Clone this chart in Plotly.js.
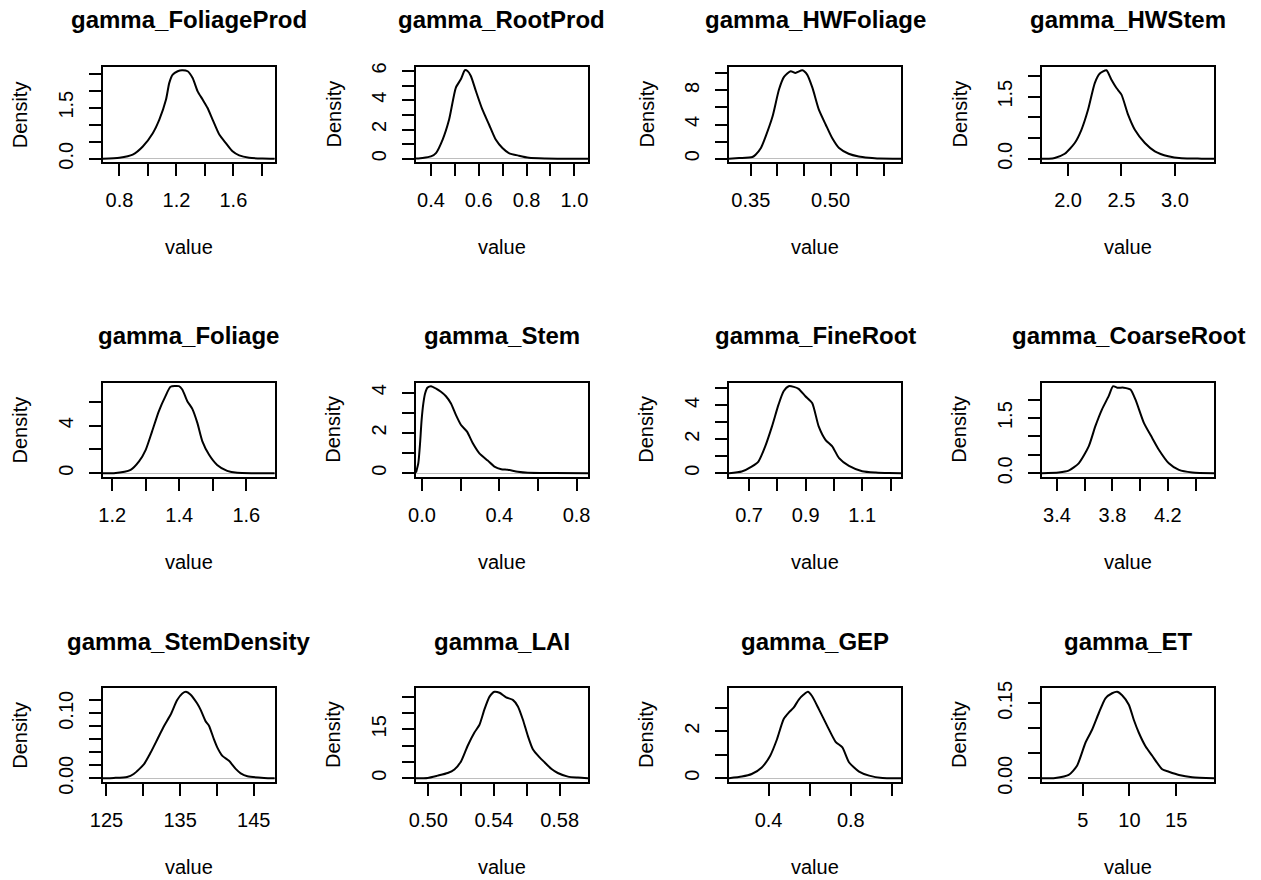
<!DOCTYPE html>
<html><head><meta charset="utf-8">
<script src="https://cdn.plot.ly/plotly-3.0.1.min.js"></script>
<style>html,body{margin:0;padding:0;background:#fff}#chart{width:1261px;height:880px}</style>
</head><body><div id="chart"></div>
<script>
// ---------- data ----------
const panelTitles = ["gamma_FoliageProd","gamma_RootProd","gamma_HWFoliage","gamma_HWStem",
  "gamma_Foliage","gamma_Stem","gamma_FineRoot","gamma_CoarseRoot",
  "gamma_StemDensity","gamma_LAI","gamma_GEP","gamma_ET"];
const xAxisLabel = "value";
const yAxisLabel = "Density";

const foliageProdX = [0.683,0.80,0.893,0.964,1.034,1.080,1.127,1.150,1.174,1.209,1.239,1.279,1.314,1.349,1.384,1.419,1.454,1.501,1.547,1.594,1.641,1.711,1.804,1.891];
const foliageProdY = [0.0,0.03,0.12,0.36,0.75,1.15,1.74,2.23,2.47,2.57,2.60,2.57,2.37,1.98,1.74,1.49,1.15,0.71,0.46,0.22,0.10,0.03,0.005,0.0];
const rootProdX = [0.3375,0.365,0.40,0.421,0.449,0.476,0.504,0.525,0.542,0.553,0.567,0.588,0.615,0.643,0.671,0.699,0.726,0.768,0.81,0.879,0.9625,1.057];
const rootProdY = [0.01,0.05,0.16,0.39,1.31,2.68,4.85,5.43,6.05,6.0,5.66,4.63,3.37,2.34,1.31,0.73,0.39,0.21,0.07,0.02,0.005,0.0];
const hwFoliageX = [0.309,0.328,0.353,0.359,0.369,0.378,0.391,0.403,0.4125,0.425,0.434,0.447,0.456,0.466,0.478,0.491,0.503,0.516,0.534,0.553,0.572,0.591,0.6325];
const hwFoliageY = [0.0,0.08,0.2,0.47,1.25,2.62,4.96,8.09,9.57,10.23,10.04,10.35,9.84,8.28,5.74,3.98,2.42,1.25,0.59,0.27,0.12,0.02,0.0];
const hwStemX = [1.756,1.82,1.875,1.969,2.0625,2.125,2.1875,2.25,2.297,2.359,2.406,2.453,2.5,2.5625,2.625,2.719,2.8125,2.9375,3.0625,3.25,3.366];
const hwStemY = [0.0,0.003,0.02,0.12,0.38,0.70,1.19,1.83,2.06,2.14,1.91,1.71,1.55,1.06,0.70,0.38,0.18,0.06,0.01,0.003,0.0];
const foliageX = [1.172,1.205,1.255,1.28,1.30,1.319,1.339,1.359,1.374,1.399,1.409,1.424,1.439,1.454,1.469,1.489,1.513,1.543,1.573,1.623,1.685];
const foliageY = [0.0,0.0,0.28,0.99,1.97,3.52,5.21,6.48,7.27,7.32,7.04,6.06,5.41,4.23,2.68,1.55,0.70,0.20,0.03,0.0,0.0];
const stemX = [-0.031,-0.019,-0.010,-0.002,0.007,0.016,0.029,0.047,0.073,0.098,0.124,0.150,0.176,0.202,0.233,0.263,0.297,0.340,0.375,0.410,0.444,0.496,0.548,0.686,0.859];
const stemY = [0.03,0.5,1.49,2.64,3.47,3.97,4.26,4.33,4.21,4.05,3.83,3.47,2.89,2.40,2.07,1.49,0.99,0.63,0.33,0.20,0.17,0.07,0.02,0.01,0.0];
const fineRootX = [0.629,0.674,0.709,0.733,0.757,0.781,0.804,0.822,0.84,0.858,0.875,0.899,0.923,0.946,0.970,0.994,1.018,1.053,1.1,1.148,1.195,1.237];
const fineRootY = [0.0,0.1,0.39,0.69,1.58,2.76,4.04,4.83,5.13,5.09,4.97,4.54,4.14,2.76,1.97,1.58,0.89,0.43,0.12,0.04,0.01,0.0];
const coarseRootX = [3.292,3.412,3.484,3.557,3.629,3.677,3.725,3.773,3.805,3.834,3.882,3.930,3.966,4.027,4.087,4.135,4.207,4.280,4.376,4.533];
const coarseRootY = [0.0,0.02,0.07,0.27,0.73,1.28,1.74,2.10,2.37,2.33,2.33,2.28,2.01,1.37,0.96,0.64,0.27,0.09,0.02,0.0];
const stemDensityX = [124.5,126.0,127.8,128.7,130.1,131.0,131.9,132.8,133.7,134.6,135.3,135.8,136.4,137.3,137.79,138.47,138.92,139.6,140.06,140.74,141.64,142.55,143.23,144.14,146.4,147.86];
const stemDensityY = [0,0.0005,0.002,0.0066,0.0218,0.0395,0.0597,0.080,0.0977,0.1205,0.1306,0.1332,0.1291,0.1154,0.1053,0.0876,0.0810,0.0597,0.0471,0.0344,0.0268,0.0144,0.0076,0.0030,0.0005,0];
const laiX = [0.4925,0.4996,0.5057,0.5118,0.5159,0.52,0.524,0.5281,0.5311,0.5342,0.5373,0.5403,0.5434,0.5474,0.5515,0.5546,0.5576,0.5607,0.5637,0.5678,0.5708,0.5749,0.5789,0.5851,0.5912,0.5973];
const laiY = [0,0.1,0.8,1.6,2.7,5.2,9.95,14.0,16.3,21.1,25.0,26.5,26.2,24.8,24.0,22.0,18.0,12.9,8.9,6.4,4.9,2.9,1.6,0.5,0.2,0];
const gepX = [0.2076,0.27,0.318,0.367,0.408,0.441,0.473,0.498,0.522,0.547,0.571,0.591,0.612,0.645,0.685,0.726,0.759,0.791,0.84,0.889,0.954,1.044];
const gepY = [0,0.07,0.18,0.46,0.96,1.66,2.51,2.79,3.0,3.35,3.56,3.68,3.49,2.93,2.23,1.55,1.31,0.68,0.28,0.11,0.01,0];
const etX = [0.643,2.07,3.5,4.39,5.29,6.0,6.71,7.43,8.14,8.68,9.21,9.93,10.46,11.0,11.71,12.43,13.5,14.21,15.29,16.71,19.04];
const etY = [0,0.0007,0.0066,0.025,0.071,0.097,0.130,0.160,0.170,0.173,0.166,0.147,0.117,0.091,0.064,0.045,0.018,0.013,0.0066,0.002,0];

// tick values and labels (R drops overlapping labels -> "")
const foliageProdXTicks = [0.8,1.0,1.2,1.4,1.6,1.8], foliageProdXLabels = ["0.8","","1.2","","1.6",""];
const foliageProdYTicks = [0,0.5,1,1.5,2,2.5], foliageProdYLabels = ["0.0","","","1.5","",""];
const rootProdXTicks = [0.4,0.5,0.6,0.7,0.8,0.9,1.0], rootProdXLabels = ["0.4","","0.6","","0.8","","1.0"];
const rootProdYTicks = [0,1,2,3,4,5,6], rootProdYLabels = ["0","","2","","4","","6"];
const hwFoliageXTicks = [0.35,0.40,0.45,0.50,0.55,0.60], hwFoliageXLabels = ["0.35","","","0.50","",""];
const hwFoliageYTicks = [0,2,4,6,8,10], hwFoliageYLabels = ["0","","4","","8",""];
const hwStemXTicks = [2.0,2.5,3.0], hwStemXLabels = ["2.0","2.5","3.0"];
const hwStemYTicks = [0,0.5,1,1.5,2], hwStemYLabels = ["0.0","","","1.5",""];
const foliageXTicks = [1.2,1.3,1.4,1.5,1.6], foliageXLabels = ["1.2","","1.4","","1.6"];
const foliageYTicks = [0,2,4,6], foliageYLabels = ["0","","4",""];
const stemXTicks = [0,0.2,0.4,0.6,0.8], stemXLabels = ["0.0","","0.4","","0.8"];
const stemYTicks = [0,1,2,3,4], stemYLabels = ["0","","2","","4"];
const fineRootXTicks = [0.7,0.8,0.9,1.0,1.1,1.2], fineRootXLabels = ["0.7","","0.9","","1.1",""];
const fineRootYTicks = [0,1,2,3,4,5], fineRootYLabels = ["0","","2","","4",""];
const coarseRootXTicks = [3.4,3.6,3.8,4.0,4.2,4.4], coarseRootXLabels = ["3.4","","3.8","","4.2",""];
const coarseRootYTicks = [0,0.5,1,1.5,2], coarseRootYLabels = ["0.0","","","1.5",""];
const stemDensityXTicks = [125,130,135,140,145], stemDensityXLabels = ["125","","135","","145"];
const stemDensityYTicks = [0,0.02,0.04,0.06,0.08,0.10,0.12], stemDensityYLabels = ["0.00","","","","","0.10",""];
const laiXTicks = [0.50,0.52,0.54,0.56,0.58], laiXLabels = ["0.50","","0.54","","0.58"];
const laiYTicks = [0,5,10,15,20,25], laiYLabels = ["0","","","15","",""];
const gepXTicks = [0.4,0.6,0.8,1.0], gepXLabels = ["0.4","","0.8",""];
const gepYTicks = [0,1,2,3], gepYLabels = ["0","","2",""];
const etXTicks = [5,10,15], etXLabels = ["5","10","15"];
const etYTicks = [0,0.05,0.10,0.15], etYLabels = ["0.00","","","0.15"];

const panels = [
  [foliageProdX,foliageProdY,foliageProdXTicks,foliageProdXLabels,foliageProdYTicks,foliageProdYLabels],
  [rootProdX,rootProdY,rootProdXTicks,rootProdXLabels,rootProdYTicks,rootProdYLabels],
  [hwFoliageX,hwFoliageY,hwFoliageXTicks,hwFoliageXLabels,hwFoliageYTicks,hwFoliageYLabels],
  [hwStemX,hwStemY,hwStemXTicks,hwStemXLabels,hwStemYTicks,hwStemYLabels],
  [foliageX,foliageY,foliageXTicks,foliageXLabels,foliageYTicks,foliageYLabels],
  [stemX,stemY,stemXTicks,stemXLabels,stemYTicks,stemYLabels],
  [fineRootX,fineRootY,fineRootXTicks,fineRootXLabels,fineRootYTicks,fineRootYLabels],
  [coarseRootX,coarseRootY,coarseRootXTicks,coarseRootXLabels,coarseRootYTicks,coarseRootYLabels],
  [stemDensityX,stemDensityY,stemDensityXTicks,stemDensityXLabels,stemDensityYTicks,stemDensityYLabels],
  [laiX,laiY,laiXTicks,laiXLabels,laiYTicks,laiYLabels],
  [gepX,gepY,gepXTicks,gepXLabels,gepYTicks,gepYLabels],
  [etX,etY,etXTicks,etXLabels,etYTicks,etYLabels]
];

// ---------- layout geometry (pixels) ----------
const W = 1261, H = 880;
const colLeft = [102.8, 416, 729, 1042], boxW = 172;
const rowTop = [66.7, 382.7, 688.3], rowBottom = [162.3, 476.7, 781.7];
const FONT = "Liberation Sans, Arial, Helvetica, sans-serif";

const data = [], annotations = [];
const layout = {
  width: W, height: H, margin: {l:0,r:0,t:0,b:0},
  paper_bgcolor: "#fff", plot_bgcolor: "#fff", showlegend: false,
  font: {family: FONT, color: "#000", size: 20}
};

panels.forEach((p, i) => {
  const [xs, ys, xt, xl, yt, yl] = p;
  const r = Math.floor(i / 4), c = i % 4, n = i + 1;
  const xa = n === 1 ? "xaxis" : "xaxis" + n, ya = n === 1 ? "yaxis" : "yaxis" + n;
  const xr = "x" + (n === 1 ? "" : n), yr = "y" + (n === 1 ? "" : n);
  const L = colLeft[c], R = L + boxW, T = rowTop[r], B = rowBottom[r];
  const ymax = Math.max(...ys);
  data.push({x: xs, y: ys, xaxis: xr, yaxis: yr, type: "scatter", mode: "lines",
    line: {color: "#000", width: 2, shape: "spline", smoothing: 0.6}, hoverinfo: "skip"});
  layout[xa] = {domain: [L / W, R / W], anchor: yr, range: [Math.min(...xs), Math.max(...xs)],
    showline: true, mirror: true, linecolor: "#000", linewidth: 2,
    ticks: "outside", ticklen: 12, tickwidth: 2, tickcolor: "#000", ticklabelstandoff: 7,
    tickmode: "array", tickvals: xt, ticktext: xl, tickfont: {size: 20, color: "#000", family: FONT},
    showgrid: false, zeroline: false, fixedrange: true};
  layout[ya] = {domain: [1 - B / H, 1 - T / H], anchor: xr, range: [-0.04 * ymax, 1.04 * ymax],
    showline: true, mirror: true, linecolor: "#000", linewidth: 2,
    ticks: "outside", ticklen: 12, tickwidth: 2, tickcolor: "#000", ticklabelstandoff: 8,
    tickmode: "array", tickvals: yt, ticktext: yl, tickangle: -90,
    tickfont: {size: 20, color: "#000", family: FONT},
    showgrid: false, zeroline: true, zerolinecolor: "#bebebe", zerolinewidth: 1, fixedrange: true};
  annotations.push({text: "<b>" + panelTitles[i] + "</b>", xref: "paper", yref: "paper",
    x: (L + boxW / 2) / W, y: 1 - (T - 47) / H, xanchor: "center", yanchor: "middle",
    showarrow: false, font: {size: 24, family: FONT, color: "#000"}});
  annotations.push({text: xAxisLabel, xref: "paper", yref: "paper",
    x: (L + boxW / 2) / W, y: 1 - (B + 85) / H, xanchor: "center", yanchor: "middle",
    showarrow: false, font: {size: 20, family: FONT, color: "#000"}});
  annotations.push({text: yAxisLabel, xref: "paper", yref: "paper", textangle: -90,
    x: (L - 83) / W, y: 1 - ((T + B) / 2) / H, xanchor: "center", yanchor: "middle",
    showarrow: false, font: {size: 20, family: FONT, color: "#000"}});
});
layout.annotations = annotations;

Plotly.newPlot("chart", data, layout, {displayModeBar: false, staticPlot: true});
</script>
</body></html>
